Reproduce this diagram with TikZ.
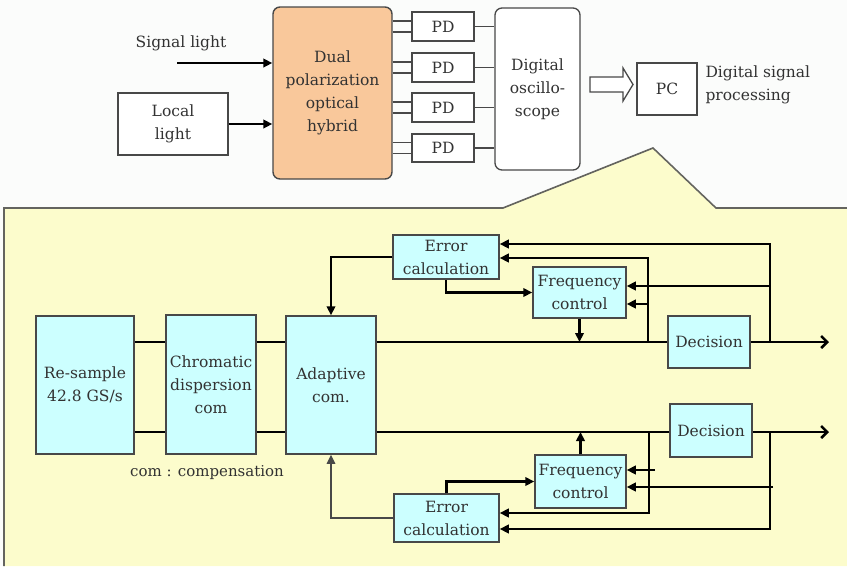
\documentclass[tikz,border=0pt]{standalone}
\usepackage{fontspec}
\setmainfont{DejaVu Serif}
\usetikzlibrary{arrows.meta}
\definecolor{topbg}{RGB}{251,252,251}
\definecolor{panelf}{RGB}{252,252,204}
\definecolor{paneld}{RGB}{100,100,95}
\definecolor{orangef}{RGB}{249,200,155}
\definecolor{cyanf}{RGB}{204,255,255}
\definecolor{bord}{RGB}{72,72,72}
\definecolor{txt}{RGB}{50,50,50}
\begin{document}
\begin{tikzpicture}[x=1pt,y=-1pt,
  every node/.style={font=\fontsize{15.5}{23}\selectfont, text=txt},
  blk/.style={draw=bord, line width=1.5pt, fill=cyanf, align=center, inner sep=0pt},
  wblk/.style={draw=bord, line width=1.3pt, fill=white, align=center, inner sep=0pt},
  conn/.style={line width=2.5pt, draw=black},
  thinconn/.style={line width=1.4pt, draw=bord},
  arr/.style={-{Triangle[length=9pt,width=8.5pt]}},
  outarr/.style={conn, -{Straight Barb[length=6pt,width=12pt,line width=2.5pt]}}
]
\useasboundingbox (0,0) rectangle (847,566);
\fill[topbg] (0,0) rectangle (847,566);
% yellow panel
\fill[panelf] (4,566) -- (4,208) -- (503,208) -- (653,148) -- (716,208) -- (847,208) -- (847,566) -- cycle;
\draw[paneld, line width=1.6pt] (4,566) -- (4,208) -- (503,208) -- (653,148) -- (716,208) -- (847,208);

% ---------- top part ----------
\node (sig) at (181,43) {Signal light};
\coordinate (sigstart) at (177,63);
\node[wblk, minimum width=110pt, minimum height=62pt] (local) at (173,124) {Local\\light};
\node[draw=bord, line width=1.4pt, fill=orangef, rounded corners=7pt, align=center, inner sep=0pt,
      minimum width=119pt, minimum height=172pt] (hyb) at (332.5,93) {Dual\\polarization\\optical\\hybrid};
\node[wblk, minimum width=62pt, minimum height=29pt] (pd1) at (443,26.5) {PD};
\node[wblk, minimum width=62pt, minimum height=29pt] (pd2) at (443,67.5) {PD};
\node[wblk, minimum width=62pt, minimum height=29pt] (pd3) at (443,107.5) {PD};
\node[wblk, minimum width=62pt, minimum height=28pt] (pd4) at (443,148) {PD};
\node[wblk, rounded corners=7pt, minimum width=85pt, minimum height=162pt] (scope) at (537.5,89) {Digital\\oscillo-\\scope};
\node[wblk, minimum width=60pt, minimum height=52pt] (pc) at (667,89) {PC};
\node[anchor=west, align=left] (dsp) at (702,85) {Digital signal\\processing};

\draw[conn, arr] (sigstart) -- (hyb.west |- sigstart);
\draw[conn, arr] (local.east) -- (hyb.west |- local.east);
\foreach \p in {pd1,pd2,pd3,pd4}{
  \draw[line width=1.3pt, bord] ([yshift=5.5pt]hyb.east |- \p.west) -- ([yshift=5.5pt]\p.west);
  \draw[line width=1.3pt, bord] ([yshift=-5.5pt]hyb.east |- \p.west) -- ([yshift=-5.5pt]\p.west);
  \draw[line width=1.3pt, bord] (\p.east) -- (scope.west |- \p.east);
}
% hollow arrow
\draw[line width=1.3pt, draw=bord, fill=white] (590,77) -- (623,77) -- (623,68) -- (633,84.5) -- (623,101) -- (623,92) -- (590,92) -- cycle;

% ---------- bottom part ----------
\node[blk, minimum width=98pt, minimum height=138pt] (res) at (85,385) {Re-sample\\42.8 GS/s};
\node[blk, minimum width=90pt, minimum height=139pt] (chr) at (211,384.5) {Chromatic\\dispersion\\com};
\node[blk, minimum width=90pt, minimum height=138pt] (ada) at (331,385) {Adaptive\\com.};
\node[font=\fontsize{15}{20}\selectfont] (note) at (207,473) {com : compensation};

\node[blk, minimum width=106pt, minimum height=44pt] (err1) at (446,257) {Error\\calculation};
\node[blk, minimum width=93pt, minimum height=51pt] (frq1) at (579.5,292.5) {Frequency\\control};
\node[blk, minimum width=82pt, minimum height=52pt] (dec1) at (709,342) {Decision};
\node[blk, minimum width=82pt, minimum height=53pt] (dec2) at (711,430.5) {Decision};
\node[blk, minimum width=91pt, minimum height=53pt] (frq2) at (580.5,481.5) {Frequency\\control};
\node[blk, minimum width=105pt, minimum height=48pt] (err2) at (446.5,518) {Error\\calculation};

\coordinate (u) at (0,342);
\coordinate (l) at (0,432);
\coordinate (j1i) at (648,342);
\coordinate (j1o) at (770,342);
\coordinate (j2i) at (649,432);
\coordinate (j2o) at (770,432);
\coordinate (out1) at (829,342);
\coordinate (out2) at (829,432);

% main lines
\draw[conn] (res.east |- u) -- (chr.west |- u);
\draw[conn] (res.east |- l) -- (chr.west |- l);
\draw[conn] (chr.east |- u) -- (ada.west |- u);
\draw[conn] (chr.east |- l) -- (ada.west |- l);
\draw[conn] (ada.east |- u) -- (dec1.west |- u);
\draw[conn] (ada.east |- l) -- (dec2.west |- l);
\draw[outarr] (dec1.east |- u) -- (out1);
\draw[outarr] (dec2.east |- l) -- (out2);

% upper feedback
\draw[conn, arr] (j1o) |- ([yshift=13pt]err1.east);
\draw[conn, arr] (j1i) |- ([yshift=-1pt]err1.east);
\draw[conn, arr] ([yshift=6.5pt]frq1.east -| j1o) -- ([yshift=6.5pt]frq1.east);
\draw[conn, arr] ([yshift=-11.5pt]frq1.east -| j1i) -- ([yshift=-11.5pt]frq1.east);
\draw[conn, arr] (err1.south) |- (frq1.west);
\draw[conn, arr] (frq1.south) -- (frq1.south |- u);
\draw[conn, arr] (err1.west) -| (ada.north);

% lower feedback
\draw[conn, arr] (j2i) |- ([yshift=5pt]err2.east);
\draw[conn, arr] (j2o) |- ([yshift=-11pt]err2.east);
\draw[conn, arr] ([yshift=11.5pt]frq2.east -| 655,0) -- ([yshift=11.5pt]frq2.east);
\draw[conn, arr] ([yshift=-5.5pt]frq2.east -| 773,0) -- ([yshift=-5.5pt]frq2.east);
\draw[conn, arr] (err2.north) |- (frq2.west);
\draw[conn, arr] (frq2.north) -- (frq2.north |- l);
\draw[thinconn, arr] (err2.west) -| (ada.south);
\end{tikzpicture}
\end{document}
